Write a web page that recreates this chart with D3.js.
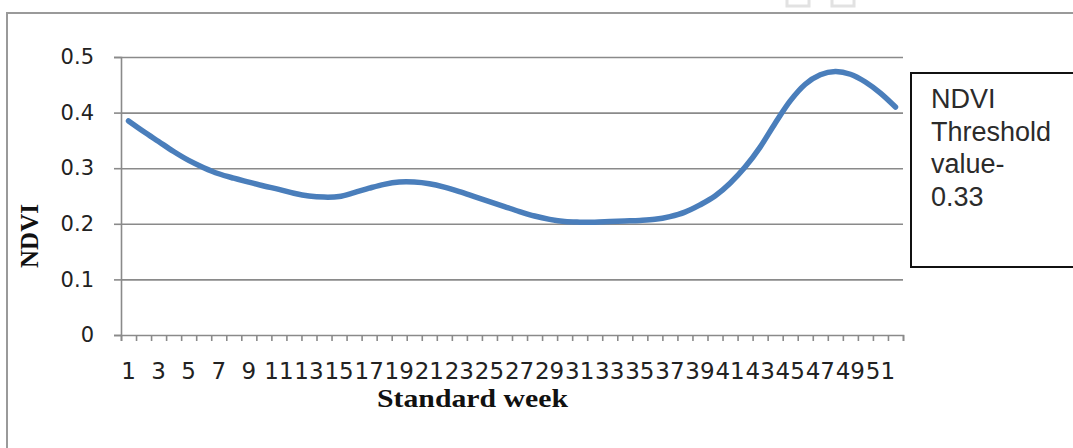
<!DOCTYPE html>
<html>
<head>
<meta charset="utf-8">
<script src="https://cdn.jsdelivr.net/npm/d3@7"></script>
<style>
  body { margin: 0; background: #fff; }
  svg { display: block; }
</style>
</head>
<body>
<div id="chart"></div>
<script>
var weeks = [1,2,3,4,5,6,7,8,9,10,11,12,13,14,15,16,17,18,19,20,21,22,23,24,25,26,
             27,28,29,30,31,32,33,34,35,36,37,38,39,40,41,42,43,44,45,46,47,48,49,50,51,52];
var ndvi = [0.385,0.366,0.348,0.330,0.314,0.301,0.290,0.282,0.275,0.268,0.262,0.255,0.250,
            0.248,0.249,0.256,0.264,0.271,0.275,0.275,0.272,0.266,0.258,0.249,0.240,0.231,
            0.222,0.214,0.208,0.204,0.203,0.203,0.204,0.205,0.206,0.208,0.213,0.221,0.234,
            0.250,0.273,0.302,0.338,0.381,0.421,0.451,0.468,0.474,0.469,0.455,0.435,0.410];
var weekLabels = [1,3,5,7,9,11,13,15,17,19,21,23,25,27,29,31,33,35,37,39,41,43,45,47,49,51];
var yTicks = [0, 0.1, 0.2, 0.3, 0.4, 0.5];
var noteLines = ["NDVI", "Threshold", "value-", "0.33"];

var width = 1073, height = 448;
var plot = {left: 121, right: 903, top: 57, bottom: 335};

var svg = d3.select("#chart").append("svg")
    .attr("width", width)
    .attr("height", height);

// outer chart frame (runs off the right and bottom)
svg.append("rect")
    .attr("x", 7).attr("y", 13)
    .attr("width", 1100).attr("height", 500)
    .attr("fill", "none")
    .attr("stroke", "#9a9a9a")
    .attr("stroke-width", 2);

var x = d3.scaleBand().domain(weeks).range([plot.left, plot.right]);
var xEdge = d3.scaleLinear().domain([0, weeks.length]).range([plot.left, plot.right]);
var y = d3.scaleLinear().domain([0, 0.5]).range([plot.bottom, plot.top]);

// gridlines
svg.append("g")
    .attr("transform", "translate(" + plot.left + ",0)")
    .call(d3.axisLeft(y).tickValues(yTicks.slice(1)).tickSize(-(plot.right - plot.left)).tickFormat(""))
    .call(function(g) {
      g.select(".domain").remove();
      g.selectAll("line").attr("stroke", "#8a8a8a").attr("stroke-width", 1.6);
    });

// y axis
svg.append("g")
    .attr("transform", "translate(" + plot.left + ",0)")
    .call(d3.axisLeft(y).tickValues(yTicks).tickSize(7)
      .tickFormat(function(d) { return d === 0 ? "0" : d3.format(".1f")(d); }))
    .call(function(g) {
      g.select(".domain").attr("stroke", "#8a8a8a").attr("stroke-width", 1.6);
      g.selectAll("line").attr("stroke", "#8a8a8a").attr("stroke-width", 1.6);
      g.selectAll("text")
        .attr("x", -27)
        .attr("fill", "#222")
        .style("font-family", "DejaVu Sans")
        .style("font-size", "21px");
    });

// x axis boundary ticks
svg.append("g")
    .attr("transform", "translate(0," + plot.bottom + ")")
    .call(d3.axisBottom(xEdge).tickValues(d3.range(0, weeks.length + 1)).tickSize(6).tickFormat(""))
    .call(function(g) {
      g.select(".domain").attr("stroke", "#8a8a8a").attr("stroke-width", 1.6);
      g.selectAll("line").attr("stroke", "#8a8a8a").attr("stroke-width", 1.6);
    });

// x axis labels
svg.append("g")
    .attr("transform", "translate(0," + plot.bottom + ")")
    .call(d3.axisBottom(x).tickValues(weekLabels).tickSize(0))
    .call(function(g) {
      g.select(".domain").remove();
      g.selectAll("text")
        .attr("y", 44).attr("dy", 0)
        .attr("fill", "#222")
        .style("font-family", "DejaVu Sans")
        .style("font-size", "23px");
    });

// the line
var line = d3.line()
    .x(function(d, i) { return x(weeks[i]) + x.bandwidth() / 2; })
    .y(function(d) { return y(d); })
    .curve(d3.curveCatmullRom.alpha(0));

svg.append("path")
    .datum(ndvi)
    .attr("d", line)
    .attr("fill", "none")
    .attr("stroke", "#4a7ebb")
    .attr("stroke-width", 5.5)
    .attr("stroke-linecap", "round");

// axis titles
svg.append("text")
    .text("Standard week")
    .attr("x", 377).attr("y", 407)
    .attr("textLength", 191)
    .attr("lengthAdjust", "spacingAndGlyphs")
    .style("font-family", "Liberation Serif")
    .style("font-weight", "bold")
    .style("font-size", "26px")
    .attr("fill", "#111");

svg.append("text")
    .text("NDVI")
    .attr("transform", "translate(38,236) rotate(-90)")
    .attr("text-anchor", "middle")
    .style("font-family", "Liberation Serif")
    .style("font-weight", "bold")
    .style("font-size", "25px")
    .attr("fill", "#111");

// note box
svg.append("rect")
    .attr("x", 911).attr("y", 73)
    .attr("width", 200).attr("height", 194)
    .attr("fill", "#fff")
    .attr("stroke", "#111")
    .attr("stroke-width", 2);

svg.append("g").selectAll("text")
    .data(noteLines)
    .enter().append("text")
      .text(function(d) { return d; })
      .attr("x", 931)
      .attr("y", function(d, i) { return 108 + i * 32.7; })
      .attr("fill", "#2b2b2b")
      .style("font-family", "Liberation Sans")
      .style("font-size", "27px");

// faint selection handles at the very top
svg.selectAll(".handle")
    .data([787, 832])
    .enter().append("rect")
      .attr("class", "handle")
      .attr("x", function(d) { return d; })
      .attr("y", -6)
      .attr("width", 22).attr("height", 12)
      .attr("fill", "none")
      .attr("stroke", "#e2e2e2")
      .attr("stroke-width", 3);
</script>
</body>
</html>
